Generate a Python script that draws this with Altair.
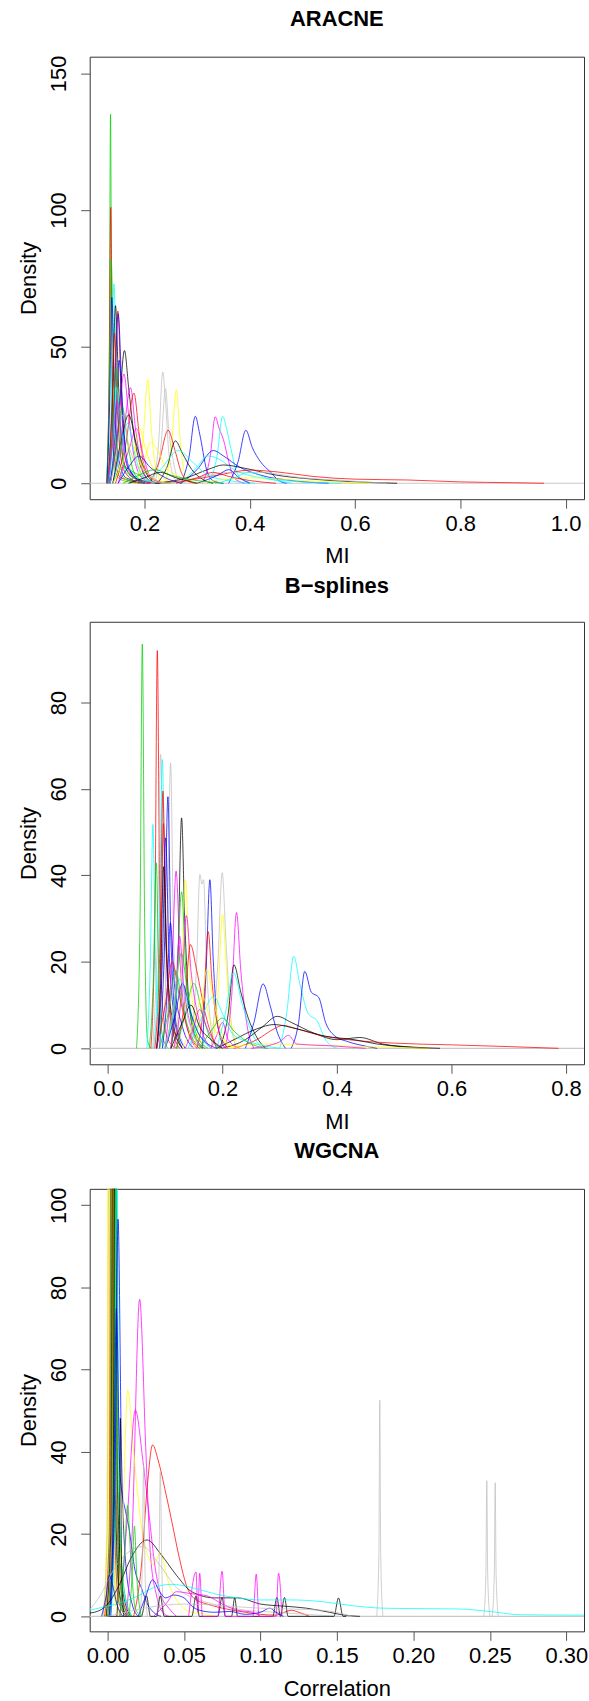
import altair as alt
import pandas as pd

PALETTE = {"black": "#000000", "red": "#FF0000", "green": "#00CD00", "blue": "#0000FF",
           "cyan": "#00FFFF", "magenta": "#FF00FF", "yellow": "#FFFF00", "gray": "#BEBEBE"}

TITLES = ["ARACNE", "B\u2212splines", "WGCNA"]
X_TITLES = ["MI", "MI", "Correlation"]
Y_TITLE = "Density"

ARACNE_XTICKS = [0.2, 0.4, 0.6, 0.8, 1.0]
ARACNE_YTICKS = [0, 50, 100, 150]
BSPL_XTICKS = [0.0, 0.2, 0.4, 0.6, 0.8]
BSPL_YTICKS = [0, 20, 40, 60, 80]
WGCNA_XTICKS = [0.0, 0.05, 0.10, 0.15, 0.20, 0.25, 0.30]
WGCNA_YTICKS = [0, 20, 40, 60, 80, 100]

ARACNE_COLORS = ["green", "red", "green", "cyan", "blue", "black", "red", "blue", "black", "magenta",
                 "magenta", "red", "yellow", "gray", "gray", "yellow", "blue", "magenta", "cyan", "blue",
                 "red", "black", "yellow", "yellow", "blue", "cyan", "black", "red", "cyan", "gray",
                 "yellow", "green", "blue", "green", "cyan", "magenta", "blue", "black",
                 "red", "green", "cyan", "gray", "yellow", "magenta", "blue", "green", "black", "red", "cyan"]
ARACNE_CURVES = [
    [(0.128, 0), (0.133, 40), (0.1356, 135), (0.138, 40), (0.142, 8), (0.15, 2), (0.17, 0.5), (0.2, 0)],
    [(0.129, 0), (0.133, 40), (0.136, 101), (0.139, 40), (0.143, 10), (0.155, 2), (0.2, 0)],
    [(0.128, 0), (0.133, 30), (0.137, 82), (0.141, 40), (0.147, 10), (0.16, 2), (0.2, 0)],
    [(0.13, 0), (0.137, 30), (0.142, 73), (0.147, 40), (0.155, 10), (0.17, 3), (0.22, 0)],
    [(0.129, 0), (0.134, 30), (0.138, 68), (0.143, 35), (0.15, 10), (0.165, 2), (0.21, 0)],
    [(0.131, 0), (0.139, 30), (0.145, 65), (0.151, 35), (0.16, 8), (0.18, 2), (0.23, 0)],
    [(0.132, 0), (0.142, 30), (0.1496, 63), (0.156, 30), (0.165, 8), (0.19, 1), (0.24, 0)],
    [(0.133, 0), (0.143, 30), (0.15, 62), (0.158, 30), (0.168, 6), (0.2, 0)],
    [(0.135, 0), (0.15, 20), (0.162, 48.6), (0.17, 35), (0.18, 18), (0.19, 8), (0.2, 3), (0.22, 0)],
    [(0.135, 0), (0.15, 20), (0.161, 40), (0.17, 25), (0.18, 10), (0.195, 2), (0.22, 0)],
    [(0.14, 0), (0.16, 18), (0.1735, 35), (0.183, 20), (0.195, 6), (0.21, 1), (0.23, 0)],
    [(0.145, 0), (0.165, 15), (0.18, 33), (0.19, 18), (0.2, 6), (0.22, 1), (0.25, 0)],
    [(0.185, 0), (0.197, 15), (0.2064, 38), (0.213, 20), (0.222, 5), (0.235, 0.5), (0.25, 0)],
    [(0.215, 0), (0.227, 15), (0.2348, 40.7), (0.24, 30), (0.247, 10), (0.26, 1), (0.27, 0)],
    [(0.22, 0), (0.232, 15), (0.24, 34.6), (0.246, 20), (0.255, 8), (0.265, 1), (0.28, 0)],
    [(0.24, 0), (0.252, 15), (0.2606, 34.2), (0.267, 18), (0.276, 4), (0.29, 0.5), (0.3, 0)],
    [(0.27, 0), (0.285, 10), (0.2966, 24.5), (0.305, 18), (0.318, 5), (0.33, 1), (0.35, 0)],
    [(0.31, 0), (0.325, 10), (0.3345, 24.3), (0.342, 20), (0.35, 16), (0.36, 8), (0.37, 2), (0.39, 0)],
    [(0.32, 0), (0.338, 10), (0.3485, 24.5), (0.356, 20), (0.365, 12), (0.375, 4), (0.39, 1), (0.41, 0)],
    [(0.36, 0), (0.378, 8), (0.3926, 19.4), (0.405, 13), (0.42, 8), (0.44, 4), (0.455, 1), (0.47, 0)],
    [(0.21, 0), (0.228, 8), (0.2449, 19.4), (0.258, 12), (0.27, 4), (0.285, 0.5), (0.3, 0)],
    [(0.225, 0), (0.243, 6), (0.2588, 15.5), (0.272, 11), (0.29, 5), (0.31, 1.5), (0.33, 0)],
    [(0.185, 0), (0.2, 8), (0.211, 15), (0.225, 12), (0.24, 6), (0.26, 3), (0.28, 1), (0.3, 0)],
    [(0.16, 0), (0.18, 10), (0.191, 20), (0.2, 14), (0.215, 6), (0.235, 2), (0.26, 0)],
    [(0.27, 0), (0.3, 5), (0.331, 12), (0.35, 10), (0.38, 6), (0.42, 3), (0.48, 1), (0.55, 0)],
    [(0.27, 0), (0.3, 6), (0.32, 10), (0.34, 9), (0.37, 5), (0.42, 2), (0.5, 0.5), (0.574, 0)],
    [(0.22, 0), (0.28, 2), (0.32, 5), (0.35, 6.7), (0.39, 5.5), (0.45, 3), (0.52, 1.5), (0.6, 0.5), (0.68, 0)],
    [(0.2, 0), (0.28, 1), (0.34, 3), (0.4, 4.8), (0.45, 4.2), (0.52, 2.5), (0.6, 1.5), (0.7, 1.2), (0.8, 0.5), (0.9, 0.2), (0.959, 0)],
    [(0.2, 0), (0.23, 5), (0.265, 12), (0.29, 8), (0.32, 3), (0.36, 1), (0.4, 0)],
    [(0.25, 0), (0.3, 2), (0.36, 4), (0.42, 4), (0.5, 2), (0.58, 1), (0.66, 0)],
    [(0.3, 0), (0.4, 2), (0.5, 1), (0.63, 0)],
    [(0.14, 0), (0.16, 6), (0.18, 4), (0.2, 2), (0.22, 0)],
    [(0.3, 0), (0.34, 3), (0.36, 5), (0.38, 2), (0.4, 0)],
    [(0.135, 0), (0.148, 15), (0.158, 28), (0.168, 15), (0.18, 4), (0.2, 0)],
    [(0.14, 0), (0.155, 12), (0.168, 22), (0.18, 12), (0.195, 3), (0.22, 0)],
    [(0.15, 0), (0.17, 12), (0.185, 20), (0.198, 10), (0.21, 3), (0.24, 0)],
    [(0.135, 0), (0.145, 20), (0.152, 45), (0.16, 20), (0.172, 5), (0.2, 0)],
    [(0.14, 0), (0.155, 15), (0.17, 25), (0.185, 14), (0.2, 5), (0.22, 0)],
    [(0.13, 0), (0.138, 25), (0.143, 55), (0.149, 25), (0.16, 5), (0.19, 0)],
    [(0.131, 0), (0.14, 20), (0.146, 42), (0.153, 20), (0.165, 5), (0.2, 0)],
    [(0.132, 0), (0.14, 15), (0.147, 35), (0.156, 20), (0.17, 6), (0.2, 1), (0.25, 0)],
    [(0.135, 0), (0.148, 12), (0.158, 25), (0.17, 14), (0.19, 5), (0.22, 0)],
    [(0.14, 0), (0.16, 8), (0.175, 15), (0.19, 8), (0.21, 3), (0.24, 0)],
    [(0.13, 0), (0.14, 15), (0.148, 30), (0.158, 15), (0.172, 4), (0.2, 0)],
    [(0.15, 0), (0.17, 6), (0.19, 10), (0.21, 6), (0.24, 2), (0.27, 0)],
    [(0.16, 0), (0.19, 3), (0.22, 5), (0.25, 3), (0.3, 1), (0.35, 0)],
    [(0.17, 0), (0.2, 2), (0.23, 4), (0.26, 2), (0.3, 0)],
    [(0.26, 0), (0.3, 2), (0.33, 4), (0.36, 2.5), (0.4, 1), (0.45, 0)],
    [(0.34, 0), (0.37, 2), (0.4, 4), (0.43, 2), (0.48, 0)],
]

BSPL_COLORS = ["green", "red", "gray", "cyan", "gray", "red", "blue", "black", "cyan", "red",
               "blue", "green", "black", "magenta", "yellow", "gray", "gray", "blue", "green", "yellow",
               "magenta", "magenta", "red", "red", "blue", "magenta", "yellow", "black", "cyan", "blue",
               "cyan", "blue", "black", "red", "black", "green", "green", "yellow", "cyan", "magenta",
               "red", "green", "cyan", "blue", "black", "yellow", "magenta", "gray", "green", "magenta"]
BSPL_CURVES = [
    [(0.05, 0), (0.056, 30), (0.060, 93.5), (0.064, 30), (0.069, 2), (0.075, 0)],
    [(0.075, 0), (0.082, 30), (0.0862, 92), (0.09, 40), (0.095, 10), (0.105, 2), (0.12, 0)],
    [(0.078, 0), (0.087, 30), (0.092, 68), (0.097, 30), (0.105, 8), (0.12, 0)],
    [(0.08, 0), (0.09, 30), (0.0949, 66.8), (0.1, 30), (0.11, 6), (0.125, 0)],
    [(0.095, 0), (0.104, 30), (0.1094, 66), (0.114, 30), (0.122, 6), (0.135, 0)],
    [(0.082, 0), (0.091, 25), (0.096, 59.5), (0.101, 25), (0.11, 6), (0.125, 0)],
    [(0.09, 0), (0.099, 25), (0.1047, 58.2), (0.11, 25), (0.12, 5), (0.135, 0)],
    [(0.11, 0), (0.122, 20), (0.1286, 53.3), (0.134, 30), (0.142, 10), (0.155, 2), (0.17, 0)],
    [(0.068, 0), (0.074, 20), (0.0785, 51.8), (0.083, 20), (0.09, 4), (0.1, 0)],
    [(0.085, 0), (0.092, 20), (0.097, 52), (0.102, 25), (0.112, 6), (0.13, 0)],
    [(0.085, 0), (0.095, 20), (0.1007, 48.7), (0.106, 25), (0.115, 8), (0.13, 0)],
    [(0.072, 0), (0.079, 15), (0.0844, 42.9), (0.089, 15), (0.095, 3), (0.105, 0)],
    [(0.085, 0), (0.092, 15), (0.097, 42), (0.103, 20), (0.115, 5), (0.13, 0)],
    [(0.1, 0), (0.112, 20), (0.119, 41), (0.126, 20), (0.138, 5), (0.155, 0)],
    [(0.115, 0), (0.128, 15), (0.1355, 39), (0.142, 20), (0.155, 5), (0.17, 0)],
    [(0.145, 0), (0.155, 20), (0.1605, 40.2), (0.164, 38), (0.167, 39), (0.172, 20), (0.18, 5), (0.19, 0)],
    [(0.18, 0), (0.192, 20), (0.1995, 40.6), (0.206, 25), (0.215, 6), (0.225, 0)],
    [(0.165, 0), (0.172, 20), (0.178, 39), (0.184, 20), (0.192, 5), (0.205, 0)],
    [(0.11, 0), (0.12, 15), (0.1286, 36.2), (0.136, 18), (0.148, 5), (0.165, 0)],
    [(0.18, 0), (0.192, 12), (0.2, 31), (0.207, 18), (0.215, 6), (0.23, 0)],
    [(0.205, 0), (0.216, 12), (0.2245, 31.4), (0.232, 18), (0.242, 6), (0.255, 0)],
    [(0.115, 0), (0.128, 12), (0.137, 30.7), (0.145, 18), (0.16, 6), (0.18, 0)],
    [(0.155, 0), (0.167, 10), (0.175, 27), (0.182, 15), (0.192, 5), (0.21, 0)],
    [(0.12, 0), (0.135, 12), (0.144, 24), (0.155, 18), (0.17, 8), (0.19, 0)],
    [(0.095, 0), (0.103, 12), (0.109, 29), (0.116, 15), (0.13, 5), (0.15, 0)],
    [(0.11, 0), (0.118, 12), (0.125, 26), (0.132, 15), (0.145, 5), (0.165, 0)],
    [(0.15, 0), (0.162, 8), (0.173, 18.4), (0.183, 12), (0.195, 5), (0.215, 0)],
    [(0.195, 0), (0.21, 8), (0.22, 19.3), (0.232, 13), (0.245, 7), (0.258, 3), (0.275, 0)],
    [(0.19, 0), (0.205, 8), (0.219, 17.5), (0.235, 10), (0.25, 4), (0.27, 0)],
    [(0.24, 0), (0.255, 6), (0.271, 14.9), (0.283, 10), (0.295, 4), (0.31, 0)],
    [(0.3, 0), (0.312, 8), (0.3245, 21.3), (0.335, 15), (0.35, 8), (0.365, 6.4), (0.38, 2), (0.4, 0)],
    [(0.32, 0), (0.333, 6), (0.3437, 17.8), (0.355, 13), (0.368, 11.8), (0.38, 6), (0.395, 3), (0.42, 1.5), (0.45, 0.5), (0.47, 0)],
    [(0.2, 0), (0.24, 2), (0.27, 5), (0.2955, 7.4), (0.32, 6), (0.36, 3.5), (0.4, 2), (0.44, 2.5), (0.48, 1), (0.53, 0.3), (0.58, 0)],
    [(0.22, 0), (0.26, 2), (0.29, 4.5), (0.305, 5.3), (0.33, 4.5), (0.37, 3), (0.42, 2), (0.5, 1.2), (0.6, 0.8), (0.7, 0.4), (0.787, 0)],
    [(0.19, 0), (0.22, 2), (0.26, 4.5), (0.29, 5.5), (0.33, 4.5), (0.38, 2.8), (0.43, 2), (0.47, 1), (0.52, 0.3), (0.56, 0)],
    [(0.12, 0), (0.135, 8), (0.15, 15), (0.165, 8), (0.18, 2), (0.2, 0)],
    [(0.1, 0), (0.115, 10), (0.128, 22), (0.14, 12), (0.155, 3), (0.175, 0)],
    [(0.2, 0), (0.28, 1), (0.35, 0.8), (0.45, 0.4), (0.56, 0)],
    [(0.14, 0), (0.16, 6), (0.185, 12), (0.2, 8), (0.22, 3), (0.26, 1), (0.3, 0)],
    [(0.18, 0), (0.19, 3), (0.2, 6), (0.21, 2), (0.23, 0)],
    [(0.085, 0), (0.1, 10), (0.112, 20), (0.125, 12), (0.14, 4), (0.16, 0)],
    [(0.09, 0), (0.105, 8), (0.118, 18), (0.13, 10), (0.145, 3), (0.165, 0)],
    [(0.1, 0), (0.115, 8), (0.125, 16), (0.14, 10), (0.16, 3), (0.18, 0)],
    [(0.1, 0), (0.118, 8), (0.13, 15), (0.145, 8), (0.16, 3), (0.19, 0)],
    [(0.11, 0), (0.13, 6), (0.145, 10), (0.16, 5), (0.18, 2), (0.2, 0)],
    [(0.13, 0), (0.15, 6), (0.165, 12), (0.18, 6), (0.2, 2), (0.23, 0)],
    [(0.135, 0), (0.15, 5), (0.16, 9), (0.172, 5), (0.19, 1), (0.21, 0)],
    [(0.1, 0), (0.115, 10), (0.125, 20), (0.135, 10), (0.15, 3), (0.17, 0)],
    [(0.16, 0), (0.18, 4), (0.2, 7), (0.22, 4), (0.25, 1), (0.28, 0)],
    [(0.25, 0), (0.3, 1.5), (0.315, 3), (0.33, 1), (0.4, 0.5), (0.45, 0)],
]

WGCNA_COLORS = ["yellow", "gray", "yellow", "red", "green", "black", "red", "green", "black", "green",
                "cyan", "blue", "blue", "magenta", "yellow", "magenta", "red", "black", "gray", "gray",
                "gray", "gray", "gray", "gray", "black", "black", "magenta", "cyan", "blue", "magenta",
                "green", "green", "blue", "gray"]
WGCNA_CURVES = [
    [(-0.003, 0), (-0.0007, 20), (0.0008, 180), (0.0023, 30), (0.005, 3), (0.009, 0)],
    [(-0.003, 0), (-0.0003, 20), (0.0012, 160), (0.0027, 30), (0.006, 3), (0.01, 0)],
    [(-0.002, 0), (0.0003, 20), (0.0018, 200), (0.0033, 30), (0.006, 3), (0.01, 0)],
    [(-0.002, 0), (0.001, 20), (0.0025, 170), (0.004, 30), (0.007, 4), (0.012, 0)],
    [(-0.001, 0), (0.0015, 20), (0.003, 190), (0.0045, 30), (0.008, 4), (0.012, 0)],
    [(-0.001, 0), (0.002, 20), (0.0035, 150), (0.005, 30), (0.008, 5), (0.013, 0)],
    [(0.0, 0), (0.0025, 20), (0.004, 170), (0.0055, 30), (0.009, 6), (0.014, 0)],
    [(0.0, 0), (0.003, 20), (0.0045, 160), (0.006, 30), (0.009, 5), (0.014, 0)],
    [(0.001, 0), (0.0035, 20), (0.005, 140), (0.0065, 30), (0.01, 6), (0.015, 0)],
    [(0.001, 0), (0.004, 20), (0.0055, 130), (0.007, 30), (0.011, 6), (0.016, 0)],
    [(0.002, 0), (0.0045, 20), (0.006, 120), (0.0075, 30), (0.011, 5), (0.016, 0)],
    [(0.002, 0), (0.005, 40), (0.0068, 96.6), (0.009, 40), (0.012, 12), (0.016, 3), (0.02, 0)],
    [(0.001, 0), (0.004, 30), (0.0057, 75), (0.008, 35), (0.012, 25), (0.0137, 22), (0.018, 11), (0.022, 7), (0.026, 3), (0.03, 1), (0.035, 0)],
    [(0.012, 0), (0.016, 20), (0.0209, 77.1), (0.025, 40), (0.028, 15), (0.032, 5), (0.036, 1), (0.04, 0)],
    [(0.006, 0), (0.01, 25), (0.0131, 55), (0.017, 40), (0.022, 22), (0.027, 14), (0.03, 12.5), (0.0344, 15.4), (0.04, 8), (0.047, 3), (0.055, 1), (0.065, 0.5), (0.07, 0)],
    [(0.008, 0), (0.013, 25), (0.0181, 50.2), (0.023, 38), (0.027, 25), (0.031, 12), (0.035, 5), (0.04, 2), (0.045, 0)],
    [(0.017, 0), (0.022, 12), (0.026, 32), (0.0294, 41.7), (0.033, 38), (0.038, 30), (0.042, 23), (0.047, 14), (0.052, 7), (0.058, 4), (0.065, 3), (0.075, 2), (0.09, 1), (0.1, 0.5), (0.11, 0.3), (0.12, 1.5), (0.125, 1), (0.132, 0)],
    [(-0.012, 0.8), (-0.005, 1.5), (0.0, 3), (0.008, 8), (0.015, 14), (0.0257, 18.6), (0.035, 15), (0.045, 10), (0.055, 6), (0.07, 4.5), (0.085, 4.5), (0.1, 3), (0.115, 2.5), (0.13, 2), (0.145, 1), (0.155, 0.3), (0.165, 0)],
    [(-0.012, 1.5), (-0.005, 5), (0.005, 12), (0.015, 16), (0.023, 17), (0.033, 13), (0.045, 7), (0.06, 4), (0.075, 2.5), (0.09, 1.5), (0.11, 1), (0.13, 0.5), (0.15, 0)],
    [(0.021, 0), (0.0225, 10), (0.0235, 36.8), (0.0245, 10), (0.026, 0)],
    [(0.032, 0), (0.0335, 10), (0.0344, 35.2), (0.0355, 10), (0.037, 0)],
    [(0.176, 0), (0.1774, 15), (0.178, 52.6), (0.1786, 15), (0.18, 0)],
    [(0.246, 0), (0.2474, 10), (0.248, 33), (0.2486, 10), (0.25, 0)],
    [(0.2515, 0), (0.2529, 10), (0.2535, 32.5), (0.2541, 10), (0.2555, 0)],
    [(0.006, 0), (0.0075, 15), (0.0083, 48.2), (0.009, 15), (0.0105, 0)],
    [(0.0, 0), (0.022, 0), (0.0254, 5), (0.028, 0), (0.032, 0), (0.0344, 5), (0.037, 0), (0.055, 0), (0.0578, 5), (0.06, 0), (0.072, 0), (0.0748, 4.6), (0.077, 0), (0.081, 0), (0.0831, 4.5), (0.085, 0), (0.108, 0), (0.1107, 4.6), (0.113, 0), (0.1157, 4.6), (0.118, 0), (0.148, 0), (0.151, 4.5), (0.154, 0), (0.156, 0)],
    [(0.053, 0), (0.0578, 10.8), (0.059, 1), (0.0602, 10.5), (0.062, 0), (0.072, 0), (0.0748, 11), (0.077, 0), (0.095, 0), (0.0972, 10.3), (0.099, 0), (0.11, 0), (0.1118, 10.5), (0.114, 0)],
    [(-0.012, 1.5), (0.0, 2.5), (0.01, 3.5), (0.02, 5), (0.03, 7), (0.042, 7.8), (0.055, 7), (0.07, 5.5), (0.085, 4.5), (0.1, 4), (0.12, 4), (0.14, 3.6), (0.16, 2.6), (0.18, 2), (0.2, 1.9), (0.23, 1.8), (0.25, 1.2), (0.27, 0.4), (0.312, 0.3)],
    [(0.02, 0), (0.025, 5), (0.0294, 8.9), (0.034, 6), (0.038, 4.5), (0.043, 5.2), (0.05, 4.5), (0.055, 2.5), (0.06, 1.5), (0.07, 1), (0.08, 1.2), (0.09, 0.5), (0.1, 1), (0.106, 2), (0.11, 1), (0.115, 0)],
    [(0.03, 0), (0.038, 3), (0.045, 6), (0.055, 5.5), (0.065, 5), (0.075, 3), (0.085, 1.5), (0.095, 1), (0.1, 0)],
    [(0.008, 0), (0.011, 15), (0.013, 27), (0.015, 15), (0.018, 2), (0.022, 0)],
    [(0.014, 0), (0.016, 10), (0.0175, 22), (0.019, 10), (0.022, 0)],
    [(-0.004, 0), (-0.001, 5), (0.001, 10), (0.003, 8), (0.006, 3), (0.01, 0)],
    [(0.0, 0), (0.05, 3), (0.1, 2), (0.14, 1.5), (0.16, 0)],
]

PANELS = [
    (TITLES[0], ARACNE_COLORS, ARACNE_CURVES, [0.096, 1.035], [-5.83, 156.1], ARACNE_XTICKS, ARACNE_YTICKS, ".1f", X_TITLES[0]),
    (TITLES[1], BSPL_COLORS, BSPL_CURVES, [-0.0319, 0.8314], [-3.69, 98.66], BSPL_XTICKS, BSPL_YTICKS, ".1f", X_TITLES[1]),
    (TITLES[2], WGCNA_COLORS, WGCNA_CURVES, [-0.01176, 0.3116], [-3.64, 103.98], WGCNA_XTICKS, WGCNA_YTICKS, ".2f", X_TITLES[2]),
]

FONT = "Liberation Sans"
W, H = 496, 444

charts = []
for name, colors, curves, xdom, ydom, xticks, yticks, xfmt, xtitle in PANELS:
    rows = []
    for c, (col, pts) in enumerate(zip(colors, curves)):
        for i, (x, y) in enumerate(pts):
            rows.append({"curve": c, "idx": i, "x": x, "y": y, "color": PALETTE[col]})
    df = pd.DataFrame(rows)

    xaxis = alt.Axis(values=xticks, format=xfmt, title=xtitle, domain=False, grid=False,
                     tickSize=9, tickColor="#555555", labelFontSize=22, labelFont=FONT,
                     labelColor="black", labelPadding=5, labelFlush=False, labelOverlap=False,
                     titleFont=FONT, titleFontSize=22, titleFontWeight="normal", titleColor="black",
                     titleY=57, titleBaseline="middle")
    yaxis = alt.Axis(values=yticks, format="d", title=Y_TITLE, domain=False, grid=False,
                     tickSize=9, tickColor="#555555", labelFontSize=22, labelFont=FONT,
                     labelColor="black", labelAngle=270, labelAlign="center", labelBaseline="bottom",
                     labelPadding=10, labelFlush=False, labelOverlap=False,
                     titleFont=FONT, titleFontSize=22, titleFontWeight="normal", titleColor="black",
                     titleX=-61, titleY=H / 2, titleAngle=270, titleAlign="center", titleBaseline="middle")
    xs = alt.Scale(domain=xdom, nice=False, zero=False)
    ys = alt.Scale(domain=ydom, nice=False, zero=False)

    zero = alt.Chart(pd.DataFrame({"x": [xdom[0], xdom[1]], "y": [0, 0]})).mark_line(
        color="#C8C8C8", strokeWidth=1.2, clip=True
    ).encode(x=alt.X("x:Q", scale=xs, axis=xaxis), y=alt.Y("y:Q", scale=ys, axis=yaxis))

    lines = alt.Chart(df).mark_line(strokeWidth=1, opacity=0.75, interpolate="monotone", clip=True).encode(
        x=alt.X("x:Q", scale=xs, axis=xaxis),
        y=alt.Y("y:Q", scale=ys, axis=yaxis),
        detail="curve:N",
        order="idx:Q",
        color=alt.Color("color:N", scale=None),
    )
    ch = alt.layer(zero, lines).properties(
        width=W, height=H,
        title=alt.Title(name, fontSize=22, fontWeight="bold", font=FONT, color="black",
                        anchor="middle", offset=24),
    )
    charts.append(ch)

chart = alt.vconcat(*charts, spacing=6).properties(
    padding={"left": 17, "top": 4, "right": 0, "bottom": 0},
    background="white",
).configure_view(stroke="#333333", strokeWidth=1)

chart.save("out.html", embed_options={"renderer": "svg", "actions": False})
